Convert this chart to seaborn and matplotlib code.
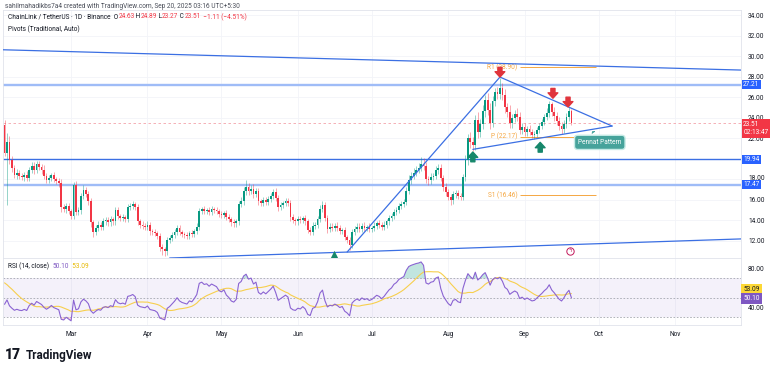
import numpy as np
import pandas as pd
import matplotlib
matplotlib.use("Agg")
import matplotlib.pyplot as plt
import matplotlib.dates as mdates
import matplotlib.ticker as mticker
import matplotlib.transforms as mtrans
import seaborn as sns

sns.set_theme(style="white")
plt.rcParams['font.family'] = ['Roboto', 'DejaVu Sans']

# daily LINK/USDT candles, Feb 2 -> Sep 20 2025 (one row = one week)
first_day = "2025-02-02"
closes = [
    20.6, 21.6, 19.9, 19.1, 18.4, 18.6, 18.3,
    18.2, 18.4, 18.1, 18.9, 19.3, 18.9, 19.5,
    19.2, 18.9, 18.3, 17.9, 18.1, 18.4, 18.0,
    17.8, 17.6, 15.3, 15.1, 15.4, 14.9, 14.4,
    17.4, 14.8, 15.0, 16.4, 17.0, 16.6, 15.9,
    13.8, 12.9, 13.3, 13.6, 13.4, 13.9, 14.0,
    13.8, 14.1, 13.9, 15.0, 14.4, 14.2, 14.3,
    14.1, 15.3, 15.4, 15.6, 15.3, 13.9, 13.6,
    13.5, 13.4, 13.6, 13.0, 12.9, 12.8, 12.5,
    11.4, 11.2, 11.0, 12.1, 12.3, 12.6, 12.9,
    13.3, 12.9, 12.7, 12.6, 12.5, 12.8, 12.7,
    13.0, 13.4, 14.9, 15.1, 14.9, 15.0, 14.8,
    15.1, 15.0, 14.9, 14.6, 14.5, 14.7, 14.3,
    14.1, 13.8, 13.7, 13.9, 15.6, 15.9, 16.9,
    17.3, 16.9, 17.1, 16.6, 16.9, 15.9, 15.7,
    16.0, 15.8, 16.1, 16.4, 16.8, 16.2, 15.3,
    15.5, 15.7, 15.9, 15.7, 14.3, 14.0, 13.9,
    14.1, 14.0, 14.2, 13.9, 13.1, 12.9, 13.5,
    13.6, 14.1, 15.1, 15.5, 14.2, 13.2, 13.4,
    13.3, 13.5, 13.3, 13.0, 13.1, 12.4, 12.1,
    11.6, 12.9, 13.2, 13.4, 13.2, 13.5, 13.3,
    13.4, 13.2, 13.3, 13.5, 13.7, 13.6, 13.4,
    13.6, 13.9, 14.2, 14.4, 14.8, 15.0, 15.4,
    15.6, 15.8, 16.9, 17.9, 18.3, 18.6, 18.9,
    19.1, 19.5, 19.3, 18.0, 17.9, 18.2, 18.3,
    18.9, 19.1, 18.1, 17.3, 16.8, 16.3, 16.0,
    16.6, 16.7, 16.4, 16.3, 18.2, 19.9, 22.0,
    21.6, 21.3, 23.8, 22.6, 23.4, 24.7, 25.7,
    24.8, 23.5, 25.6, 26.5, 26.3, 26.9, 26.2,
    25.0, 24.6, 23.5, 24.0, 24.4, 24.1, 22.8,
    23.1, 22.6, 22.9, 22.6, 22.3, 22.4, 22.8,
    23.2, 23.6, 24.1, 24.5, 25.3, 24.6, 24.2,
    23.7, 23.2, 22.9, 23.4, 24.1, 24.63, 23.51,
]
up_wick = [
    0.5, 0.9, 0.6, 0.4, 0.3, 0.4, 0.3,
    0.3, 0.3, 0.4, 0.3, 0.4, 0.4, 0.3,
    0.3, 0.3, 0.5, 0.3, 0.3, 0.2, 0.3,
    0.2, 0.3, 0.4, 0.3, 0.3, 0.3, 0.2,
    0.3, 0.4, 0.3, 0.3, 0.4, 0.3, 0.3,
    0.3, 0.2, 0.3, 0.3, 0.2, 0.3, 0.3,
    0.3, 0.3, 0.2, 0.3, 0.3, 0.2, 0.3,
    0.2, 0.3, 0.3, 0.3, 0.2, 0.3, 0.2,
    0.3, 0.2, 0.3, 0.2, 0.2, 0.3, 0.2,
    0.3, 0.3, 0.2, 0.3, 0.3, 0.3, 0.3,
    0.3, 0.3, 0.2, 0.2, 0.3, 0.2, 0.3,
    0.2, 0.3, 0.3, 0.2, 0.3, 0.2, 0.3,
    0.3, 0.2, 0.3, 0.2, 0.3, 0.2, 0.3,
    0.3, 0.2, 0.3, 0.2, 0.3, 0.4, 0.4,
    0.6, 0.3, 0.3, 0.4, 0.3, 0.3, 0.2,
    0.3, 0.3, 0.3, 0.3, 0.3, 0.4, 0.3,
    0.3, 0.2, 0.3, 0.3, 0.3, 0.3, 0.2,
    0.3, 0.3, 0.2, 0.3, 0.2, 0.3, 0.3,
    0.2, 0.3, 0.4, 0.4, 0.3, 0.3, 0.3,
    0.3, 0.2, 0.3, 0.3, 0.2, 0.3, 0.2,
    0.3, 0.3, 0.3, 0.3, 0.3, 0.2, 0.3,
    0.2, 0.3, 0.2, 0.3, 0.2, 0.3, 0.2,
    0.3, 0.2, 0.3, 0.3, 0.3, 0.3, 0.3,
    0.3, 0.3, 0.4, 0.5, 0.4, 0.5, 0.4,
    0.5, 0.7, 0.6, 0.4, 0.3, 0.4, 0.3,
    0.4, 0.4, 0.4, 0.3, 0.3, 0.3, 0.3,
    0.3, 0.3, 0.3, 0.3, 0.3, 0.5, 0.4,
    0.6, 0.5, 0.5, 0.8, 0.5, 0.5, 0.5,
    0.7, 0.6, 0.5, 0.4, 0.5, 1.0, 0.5,
    0.6, 0.4, 0.6, 0.4, 0.4, 0.5, 0.5,
    0.4, 0.4, 0.3, 0.4, 0.3, 0.3, 0.3,
    0.3, 0.3, 0.3, 0.4, 0.3, 0.2, 0.4,
    0.4, 0.4, 0.4, 0.4, 0.4, 0.4, 0.26,
]
down_wick = [
    0.3, 5.1, 0.4, 0.4, 0.3, 0.4, 0.3,
    0.3, 0.4, 0.3, 0.3, 0.3, 0.4, 0.3,
    0.3, 0.4, 0.3, 0.3, 0.3, 0.3, 0.3,
    0.3, 0.3, 0.5, 0.3, 0.4, 0.3, 0.3,
    0.3, 0.3, 0.3, 0.4, 0.3, 0.3, 0.4,
    0.4, 0.5, 0.3, 0.3, 0.3, 0.3, 0.3,
    0.3, 0.3, 0.3, 0.3, 0.3, 0.3, 0.3,
    0.3, 0.3, 0.3, 0.3, 0.3, 0.3, 0.3,
    0.3, 0.3, 0.3, 0.4, 0.3, 0.3, 0.3,
    0.4, 0.6, 0.5, 0.4, 0.3, 0.3, 0.3,
    0.3, 0.3, 0.3, 0.3, 0.3, 0.3, 0.3,
    0.3, 0.3, 0.3, 0.3, 0.3, 0.3, 0.3,
    0.3, 0.3, 0.3, 0.3, 0.3, 0.3, 0.3,
    0.3, 0.3, 0.3, 0.3, 0.3, 0.3, 0.4,
    0.4, 0.4, 0.3, 0.4, 0.3, 0.4, 0.3,
    0.3, 0.3, 0.3, 0.3, 0.3, 0.3, 0.4,
    0.3, 0.3, 0.3, 0.3, 0.4, 0.3, 0.3,
    0.3, 0.3, 0.3, 0.3, 0.3, 0.3, 0.3,
    0.3, 0.3, 0.3, 0.3, 0.3, 0.4, 0.3,
    0.3, 0.3, 0.3, 0.3, 0.3, 0.3, 0.3,
    0.5, 0.3, 0.3, 0.3, 0.3, 0.3, 0.3,
    0.3, 0.3, 0.3, 0.3, 0.3, 0.3, 0.3,
    0.3, 0.3, 0.3, 0.3, 0.3, 0.3, 0.3,
    0.3, 0.3, 0.3, 0.3, 0.4, 0.3, 0.3,
    0.3, 0.3, 0.4, 0.4, 0.5, 0.4, 0.3,
    0.3, 0.4, 0.3, 0.4, 0.4, 0.3, 0.5,
    0.4, 0.4, 0.3, 0.3, 0.3, 0.4, 0.5,
    0.5, 0.5, 0.4, 0.6, 0.5, 0.5, 0.6,
    0.5, 0.6, 0.4, 0.5, 0.5, 0.5, 0.5,
    0.5, 0.5, 0.5, 0.5, 0.4, 0.4, 0.4,
    0.4, 0.4, 0.4, 0.3, 0.3, 0.4, 0.3,
    0.3, 0.3, 0.3, 0.3, 0.4, 0.4, 0.5,
    0.4, 0.4, 0.5, 0.4, 0.4, 0.4, 0.24,
]
# January closes before the visible window, only used to warm up the RSI
warmup_closes = [21.0, 21.9, 22.5, 22.9, 22.6, 23.2, 20.9, 20.0, 19.0, 19.8, 20.0,
                 19.8, 19.6, 20.6, 21.8, 23.9, 25.4, 25.7, 25.0, 24.7, 25.1, 24.3,
                 25.5, 25.5, 25.1, 24.6, 24.0, 23.4, 24.0, 25.0, 24.4, 23.3]

ohlc_text = ["24.63", "24.89", "23.27", "23.51"]
change_text = "\u22121.11 (\u22124.51%)"
countdown = "02:13:47"
rsi_text = "50.10"
rsi_ma_text = "53.09"

sr_levels = [27.21, 19.94, 17.47]
sr_colors = ["#9fbcf7", "#3b6fe3", "#9fbcf7"]
sr_widths = [1.7, 1.0, 1.7]

pivot_names = ["R1", "P", "S1"]
pivot_values = [28.90, 22.17, 16.46]
pivot_span = ("2025-08-30", "2025-09-30")

trend_lines = [
    (("2025-02-01", 30.62), ("2025-11-28", 28.64)),
    (("2025-04-10", 10.34), ("2025-11-28", 12.20)),
    (("2025-06-21", 10.92), ("2025-08-22", 27.96)),
    (("2025-08-22", 27.96), ("2025-10-06 12:00", 23.19)),
    (("2025-08-11", 20.92), ("2025-10-06 12:00", 23.19)),
]
sell_marks = [("2025-08-22", 27.96), ("2025-09-12 12:00", 25.9), ("2025-09-18 15:00", 25.05)]
buy_marks = [("2025-08-11", 20.66), ("2025-09-07 08:00", 21.6)]
base_mark = ("2025-06-15 12:00", 10.62)

UP, DOWN = "#089981", "#f23645"
BLUE = "#3b6fe3"
ORANGE = "#f5a742"
TXT = "#131722"
FS = 4.7

days = pd.date_range(first_day, periods=len(closes), freq="D")
c = np.array(closes)
o = np.r_[warmup_closes[-1], c[:-1]]
hi = np.maximum(o, c) + np.array(up_wick)
lo = np.minimum(o, c) - np.array(down_wick)
col = np.where(c >= o, UP, DOWN)

# RSI 14 (Wilder smoothing) and its 14 SMA
allc = pd.Series(warmup_closes + closes)
dif = allc.diff()
gain = dif.clip(lower=0).ewm(alpha=1 / 14, adjust=False).mean()
loss = (-dif.clip(upper=0)).ewm(alpha=1 / 14, adjust=False).mean()
rsi_all = 100 - 100 / (1 + gain / loss)
ma_all = rsi_all.rolling(14).mean()
rsi = rsi_all.iloc[-len(closes):].to_numpy()
rsi_ma = ma_all.iloc[-len(closes):].to_numpy()

fig = plt.figure(figsize=(7.8, 3.7), dpi=100)
ax = fig.add_axes([3 / 780, 1 - 258 / 370, 738 / 780, 248 / 370])
axr = fig.add_axes([3 / 780, 1 - 325 / 370, 738 / 780, 67 / 370], sharex=ax)

t0 = pd.Timestamp(first_day)
ax.set_xlim(t0 - pd.Timedelta(hours=15), t0 + pd.Timedelta(days=298.8))
ax.set_ylim(10.34, 34.49)
axr.set_ylim(21.7, 91.1)

for a in (ax, axr):
    for s in a.spines.values():
        s.set_color("#e0e3eb")
        s.set_linewidth(0.6)
    a.xaxis.set_major_locator(mdates.MonthLocator())
    a.grid(True, axis="x", color="#f2f4f8", lw=0.6)
    a.yaxis.tick_right()
    a.tick_params(axis="y", length=0, labelsize=FS, labelcolor=TXT, pad=5)
ax.grid(True, axis="y", color="#f2f4f8", lw=0.6)
# price scale: the level boxes hide the round labels right under them
price_ticks = [t for t in range(12, 35, 2) if all(abs(t - v) > 0.3 for v in sr_levels)]
ax.set_yticks(price_ticks)
ax.yaxis.set_major_formatter(mticker.FormatStrFormatter("%.2f"))
ax.tick_params(axis="x", bottom=False, labelbottom=False)
axr.set_yticks([40, 80])
axr.yaxis.set_major_formatter(mticker.FormatStrFormatter("%.2f"))
axr.xaxis.set_major_formatter(mdates.DateFormatter("%b"))
axr.tick_params(axis="x", length=0, labelsize=FS, labelcolor=TXT, pad=4)
# nudge the 18.00 label up a little so it clears the 17.47 box, as on the chart
for lbl, t in zip(ax.get_yticklabels(), price_ticks):
    if t == 18:
        lbl.set_transform(lbl.get_transform() + mtrans.ScaledTranslation(0, 1.5 / 72, fig.dpi_scale_trans))

# candles
ax.vlines(days, lo, hi, colors=col, lw=0.6, alpha=0.5, zorder=3)
ax.bar(days, np.maximum(np.abs(c - o), 0.06), bottom=np.minimum(o, c), width=0.72,
       color=col, lw=0, zorder=4)

# horizontal levels
for v, cl, w in zip(sr_levels, sr_colors, sr_widths):
    ax.axhline(v, color=cl, lw=w, zorder=2)
ax.axhline(c[-1], color="#f4a3ab", lw=0.6, ls=(0, (3, 3)), zorder=1)

# pivots
for n, v in zip(pivot_names, pivot_values):
    ax.hlines(v, pd.Timestamp(pivot_span[0]), pd.Timestamp(pivot_span[1]), color=ORANGE, lw=0.7, zorder=2)
    ax.text(pd.Timestamp(pivot_span[0]) - pd.Timedelta(days=1), v, f"{n} ({v:.2f})",
            ha="right", va="center", color=ORANGE, fontsize=FS)

# drawn trend lines
for a, b in trend_lines:
    sns.lineplot(x=[pd.Timestamp(a[0]), pd.Timestamp(b[0])], y=[a[1], b[1]], ax=ax,
                 color=BLUE, lw=0.9, zorder=5)

arrow = "simple,head_length=0.55,head_width=1.0,tail_width=0.42"
for d, p in sell_marks:
    ax.annotate("", xy=(pd.Timestamp(d), p), xytext=(pd.Timestamp(d), p + 0.95),
                arrowprops=dict(arrowstyle=arrow, color="#e0343c", shrinkA=0, shrinkB=0,
                                mutation_scale=7), zorder=6)
for d, p in buy_marks:
    ax.annotate("", xy=(pd.Timestamp(d), p), xytext=(pd.Timestamp(d), p - 0.95),
                arrowprops=dict(arrowstyle=arrow, color="#16876b", shrinkA=0, shrinkB=0,
                                mutation_scale=7), zorder=6)
ax.scatter([pd.Timestamp(base_mark[0])], [base_mark[1]], marker="^", s=45, color="#16876b",
           lw=0, zorder=6, clip_on=False)
ax.scatter([pd.Timestamp("2025-09-19 10:00")], [11.05], marker="o", s=28, facecolor="white",
           edgecolor="#c2185b", lw=0.7, zorder=6)
ax.text(pd.Timestamp("2025-09-19 10:00"), 11.05, "\u03df", color="#c2185b", fontsize=4,
        ha="center", va="center", zorder=7, family="DejaVu Sans")

ax.annotate("Pennat Pattern", xy=(pd.Timestamp("2025-09-28"), 22.9),
            xytext=(pd.Timestamp("2025-10-01 12:00"), 21.6), ha="center", va="center",
            color="white", fontsize=FS,
            bbox=dict(boxstyle="round,pad=0.55,rounding_size=0.5", fc="#46a39b", ec="#c6ebe6", lw=1.0),
            arrowprops=dict(arrowstyle="wedge,tail_width=0.5,shrink_factor=0.5", fc="#46a39b",
                            ec="#46a39b", lw=0.5), zorder=7)

# price scale labels
tr = mtrans.blended_transform_factory(ax.transAxes, ax.transData)
for v in sr_levels:
    ax.text(1.003, v, f"{v:.2f}", transform=tr, ha="left", va="center", color="white",
            fontsize=FS, clip_on=False, zorder=10,
            bbox=dict(boxstyle="square,pad=0.18", fc="#2962ff", ec="none"))
ax.annotate(f"{ohlc_text[3]}\n{countdown}", xy=(1.003, c[-1]), xycoords=tr,
            xytext=(0, -4.2), textcoords="offset points", ha="left", va="center",
            color="white", fontsize=FS, linespacing=1.25, annotation_clip=False, zorder=10,
            bbox=dict(boxstyle="square,pad=0.25", fc=DOWN, ec="none"))

# RSI pane
axr.axhspan(30, 70, color="#7e57c2", alpha=0.08, lw=0)
for v in (70, 50, 30):
    axr.axhline(v, color="#a3a6af", lw=0.6, ls=(0, (2, 2)))
axr.fill_between(days, rsi, 70, where=rsi > 70, interpolate=True, color=UP, alpha=0.25, lw=0)
axr.fill_between(days, rsi, 30, where=rsi < 30, interpolate=True, color=DOWN, alpha=0.2, lw=0)
sns.lineplot(x=days, y=rsi_ma, ax=axr, color="#f7cf4d", lw=0.8)
sns.lineplot(x=days, y=rsi, ax=axr, color="#8a63d2", lw=0.8)
axr.set_xlabel("")
axr.set_ylabel("")
ax.set_xlabel("")
ax.set_ylabel("")
trr = mtrans.blended_transform_factory(axr.transAxes, axr.transData)
axr.annotate(rsi_ma_text, xy=(1.003, float(rsi_ma_text)), xycoords=trr, xytext=(0, 4),
             textcoords="offset points", ha="left", va="center", color=TXT, fontsize=FS,
             annotation_clip=False, zorder=10, bbox=dict(boxstyle="square,pad=0.3", fc="#fdd835", ec="none"))
axr.annotate(rsi_text, xy=(1.003, float(rsi_text)), xycoords=trr, xytext=(0, -0.5),
             textcoords="offset points", ha="left", va="center", color="white", fontsize=FS,
             annotation_clip=False, zorder=10, bbox=dict(boxstyle="square,pad=0.3", fc="#7e57c2", ec="none"))


def chain(host, x, y, parts, size=FS):
    t = fig.text(x, y, parts[0][0], color=parts[0][1], fontsize=size, va="center", ha="left")
    for s, cl in parts[1:]:
        t = host.annotate(s, xy=(1, 0.5), xycoords=t, va="center", ha="left", color=cl,
                          fontsize=size, annotation_clip=False, zorder=10)
    return t


fig.text(5 / 780, 1 - 6 / 370, "sahilmahadikbs7a4 created with TradingView.com, Sep 20, 2025 03:16 UTC+5:30",
         fontsize=FS, color="#4a4e59", va="center")
chain(ax, 8 / 780, 1 - 17 / 370, [("ChainLink / TetherUS \u00b7 1D \u00b7 Binance  O", TXT), (ohlc_text[0], DOWN),
                                   (" H", TXT), (ohlc_text[1], DOWN), (" L", TXT), (ohlc_text[2], DOWN),
                                   (" C", TXT), (ohlc_text[3], DOWN), ("  " + change_text, DOWN)])
fig.text(8 / 780, 1 - 29 / 370, "Pivots (Traditional, Auto)", fontsize=FS, color=TXT, va="center")
chain(axr, 8 / 780, 1 - 266 / 370, [("RSI (14, close)  ", TXT), (rsi_text, "#7e57c2"),
                                     ("  " + rsi_ma_text, "#e6b800")])

fig.text(5 / 780, 1 - 355 / 370, "17", fontsize=10, fontweight="heavy", color=TXT, va="center")
fig.text(26 / 780, 1 - 355 / 370, "TradingView", fontsize=8.5, fontweight="bold", color=TXT, va="center")

fig.savefig("out.png", dpi=100, facecolor="white")
